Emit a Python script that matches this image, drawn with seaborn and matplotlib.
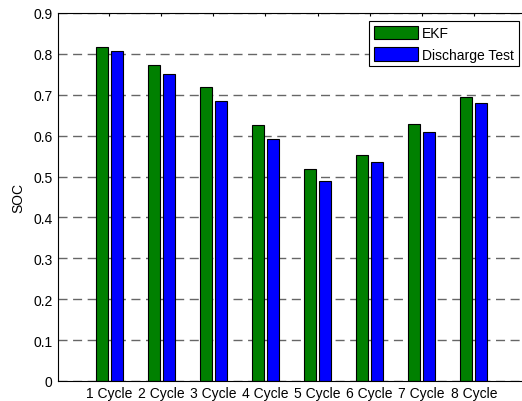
import matplotlib
matplotlib.use("Agg")
import matplotlib.pyplot as plt
import seaborn as sns
import pandas as pd

# SOC per discharge cycle: EKF estimate vs. discharge test
cycles = ["1 Cycle", "2 Cycle", "3 Cycle", "4 Cycle",
          "5 Cycle", "6 Cycle", "7 Cycle", "8 Cycle"]
ekf_soc = [0.818, 0.774, 0.718, 0.625, 0.518, 0.552, 0.628, 0.695]
test_soc = [0.806, 0.750, 0.684, 0.592, 0.488, 0.536, 0.608, 0.681]
series_names = ["EKF", "Discharge Test"]
yticks = [0, 0.1, 0.2, 0.3, 0.4, 0.5, 0.6, 0.7, 0.8, 0.9]
ytick_labels = ["0", "0.1", "0.2", "0.3", "0.4", "0.5", "0.6", "0.7", "0.8", "0.9"]

df = pd.DataFrame({
    "cycle": cycles * 2,
    "soc": ekf_soc + test_soc,
    "method": [series_names[0]] * len(cycles) + [series_names[1]] * len(cycles),
})

sns.set_style("white")
plt.rcParams["font.family"] = ["Liberation Sans", "DejaVu Sans"]
plt.rcParams["text.color"] = "black"
plt.rcParams["axes.labelcolor"] = "black"

W, H = 522, 402
fig = plt.figure(figsize=(W / 100, H / 100), dpi=100)
ax_w = 469
ax = fig.add_axes([58 / W, 20 / H, ax_w / W, 368 / H])

sns.barplot(data=df, x="cycle", y="soc", hue="method",
            palette=["#008000", "#0000FF"], width=0.576, gap=0.2,
            edgecolor="black", linewidth=0.8, saturation=1,
            errorbar=None, ax=ax)

ax.set_xlim(-0.98, 8.02)
ax.set_ylim(0, 0.9)
ax.set_yticks(yticks)
ax.set_yticklabels(ytick_labels)
ax.set_xlabel("")
ax.set_ylabel("SOC", fontsize=10, color="black")
ax.yaxis.set_label_coords(-0.069, 0.5)

ax.yaxis.grid(True, color="#666666", linestyle=(0, (6.5, 4)), linewidth=1.0)
ax.xaxis.grid(False)
ax.set_axisbelow(True)

for side in ["left", "bottom", "top"]:
    ax.spines[side].set_visible(True)
    ax.spines[side].set_color("black")
    ax.spines[side].set_linewidth(0.8)
ax.spines["right"].set_visible(False)

ax.tick_params(axis="both", direction="in", length=2.5, width=0.8,
               colors="black", labelcolor="black", labelsize=10,
               top=True, right=False)
ax.tick_params(axis="y", pad=3.8)
ax.tick_params(axis="x", pad=3.5)

leg = ax.legend(loc="upper right", bbox_to_anchor=(519 / W, 1 - 22 / H),
                bbox_transform=fig.transFigure, borderaxespad=0,
                fontsize=10, frameon=True, fancybox=False, framealpha=1,
                edgecolor="black", handlelength=3.2, handleheight=1.1,
                handletextpad=0.3, labelspacing=0.5, borderpad=0.35,
                title=None)
leg.get_frame().set_linewidth(0.8)
for t in leg.get_texts():
    t.set_color("black")

fig.savefig("out.png", dpi=100)
